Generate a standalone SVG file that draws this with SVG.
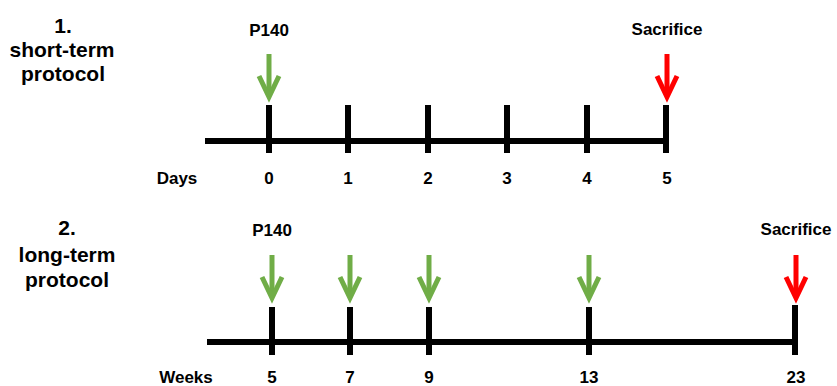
<svg xmlns="http://www.w3.org/2000/svg" width="837" height="386" viewBox="0 0 837 386">
<style>
text{font-family:"Liberation Sans",Arial,sans-serif;font-weight:bold;fill:#000;text-anchor:middle}
.title{font-size:21px}
.lbl{font-size:17px}
.axis{stroke:#000;stroke-width:6;fill:none}
.tick{stroke:#000;stroke-width:6;fill:none}
.g{stroke:#70ad47;stroke-width:5;fill:none}
.r{stroke:#ff0000;stroke-width:5;fill:none}
</style>
<defs>
<g id="arrowShape"><line x1="0" y1="0" x2="0" y2="42"/><polyline points="-10,22 0,43 10,22"/></g>
</defs>
<rect width="837" height="386" fill="#fff"/>
<g id="protocol1">
<g id="title1"><text class="title" x="63" y="33">1.</text><text class="title" x="62" y="57">short-term</text><text class="title" x="63" y="81">protocol</text></g>
<g id="labels1">
<text class="lbl" x="269" y="36" font-size="18">P140</text>
<text class="lbl" x="667" y="35" font-size="17.5">Sacrifice</text>
<text class="lbl" x="177" y="184">Days</text>
<text class="lbl" x="269" y="184">0</text>
<text class="lbl" x="348" y="184">1</text>
<text class="lbl" x="428" y="184">2</text>
<text class="lbl" x="507" y="184">3</text>
<text class="lbl" x="587" y="184">4</text>
<text class="lbl" x="667" y="184">5</text>
</g>
<g id="axis1">
<line class="axis" x1="205" y1="141" x2="666" y2="141"/>
<line class="tick" x1="269" y1="105" x2="269" y2="153"/>
<line class="tick" x1="348" y1="105" x2="348" y2="153"/>
<line class="tick" x1="428" y1="105" x2="428" y2="153"/>
<line class="tick" x1="507" y1="105" x2="507" y2="153"/>
<line class="tick" x1="587" y1="105" x2="587" y2="153"/>
<line class="tick" x1="666" y1="105" x2="666" y2="153"/>
</g>
</g>
<g id="protocol2">
<g id="title2"><text class="title" x="67" y="235">2.</text><text class="title" x="67" y="262">long-term</text><text class="title" x="67" y="287">protocol</text></g>
<g id="labels2">
<text class="lbl" x="272" y="236" font-size="18">P140</text>
<text class="lbl" x="796" y="235" font-size="17.5">Sacrifice</text>
<text class="lbl" x="186" y="383">Weeks</text>
<text class="lbl" x="272" y="383">5</text>
<text class="lbl" x="350" y="383">7</text>
<text class="lbl" x="429" y="383">9</text>
<text class="lbl" x="589" y="383">13</text>
<text class="lbl" x="796" y="383">23</text>
</g>
<g id="axis2">
<line class="axis" x1="207" y1="342" x2="795" y2="342"/>
<line class="tick" x1="272" y1="307" x2="272" y2="355"/>
<line class="tick" x1="350" y1="307" x2="350" y2="355"/>
<line class="tick" x1="429" y1="307" x2="429" y2="355"/>
<line class="tick" x1="589" y1="307" x2="589" y2="355"/>
<line class="tick" x1="795" y1="305" x2="795" y2="355"/>
</g>
</g>
<g id="connectors">
<use href="#arrowShape" class="g" x="269" y="54"/>
<use href="#arrowShape" class="r" x="667" y="54"/>
<use href="#arrowShape" class="g" x="272" y="255"/>
<use href="#arrowShape" class="g" x="350" y="255"/>
<use href="#arrowShape" class="g" x="429" y="255"/>
<use href="#arrowShape" class="g" x="589" y="255"/>
<use href="#arrowShape" class="r" x="796" y="255"/>
</g>
</svg>
